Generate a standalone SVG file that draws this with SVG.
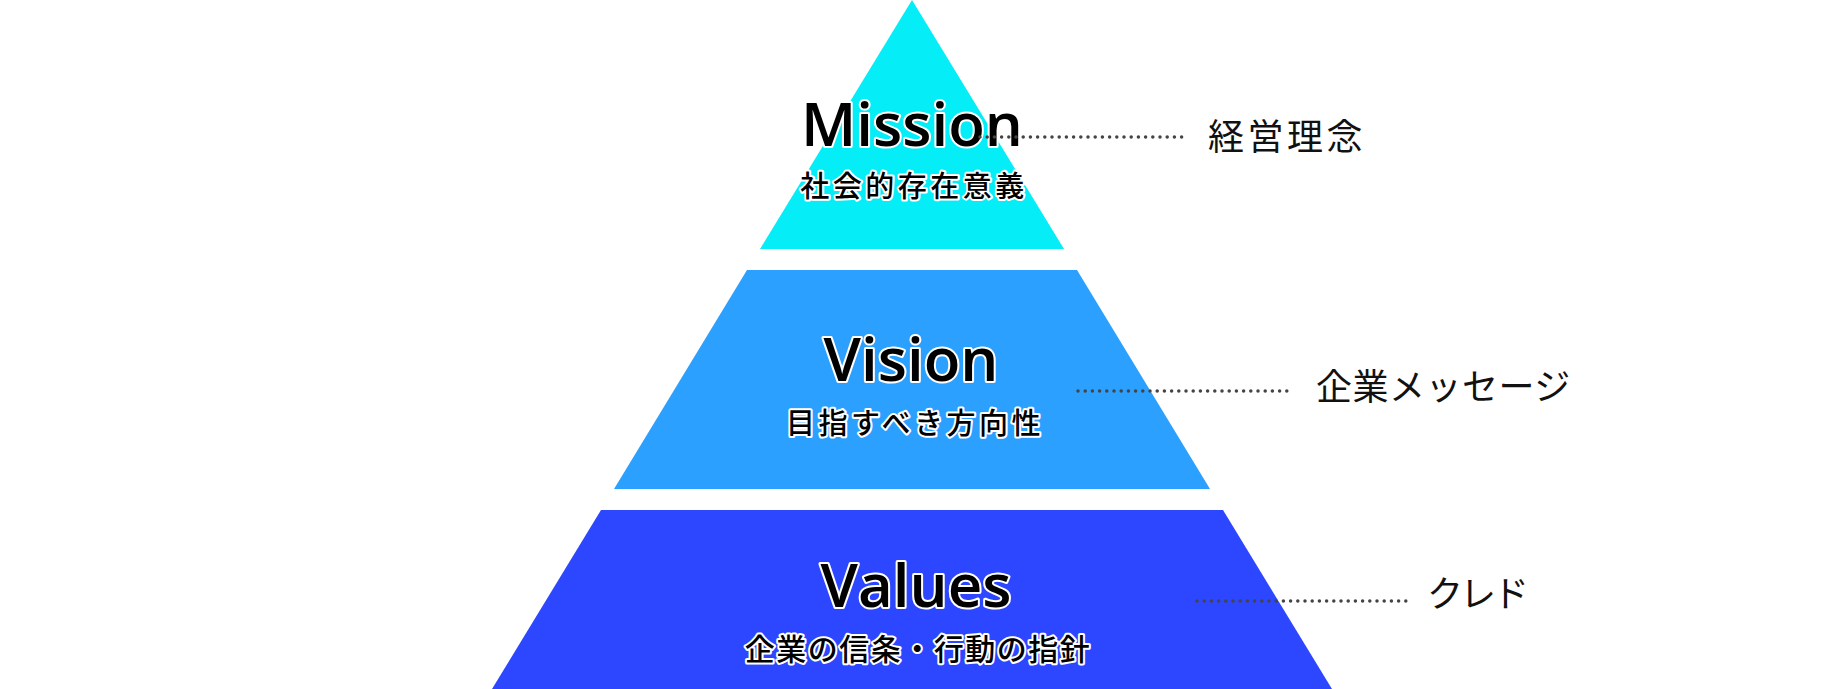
<svg xmlns="http://www.w3.org/2000/svg" width="1826" height="689" viewBox="0 0 1826 689">
<style>
.title{font-family:"Open Sans","Noto Sans",sans-serif;font-weight:600;font-size:60px;fill:#000;stroke:#fff;stroke-width:4;paint-order:stroke;stroke-linejoin:round;text-anchor:middle}
.sub{font-family:"Noto Sans CJK JP",sans-serif;font-weight:500;font-size:29px;letter-spacing:3.5px;fill:#000;stroke:#fff;stroke-width:4;paint-order:stroke;stroke-linejoin:round;text-anchor:middle}
.label{font-family:"Noto Sans CJK JP",sans-serif;font-weight:400;font-size:36px;fill:#111}
.dots{stroke:#444;stroke-width:3.5;stroke-linecap:round;stroke-dasharray:0 7.2;fill:none}
</style>
<rect width="1826" height="689" fill="#fff"/>
<g id="mission">
<polygon points="912,0 1064,249 760,249" fill="#05EDF7"/>
<text class="title" x="912" y="146">Mission</text>
<text class="sub" x="914" y="197">社会的存在意義</text>
</g>
<g id="vision">
<polygon points="747,270 1077,270 1210,489 614,489" fill="#2CA0FF"/>
<text class="title" x="911" y="381">Vision</text>
<text class="sub" x="915" y="434">目指すべき方向性</text>
</g>
<g id="values">
<polygon points="601,510 1223,510 1332,689 492,689" fill="#2C47FF"/>
<text class="title" x="916" y="607">Values</text>
<text class="sub" x="918" y="660" style="font-size:30px;letter-spacing:1.5px">企業の信条・行動の指針</text>
</g>
<g id="connectors">
<line class="dots" x1="980" y1="137" x2="1183" y2="137"/>
<line class="dots" x1="1078" y1="391" x2="1292" y2="391"/>
<line class="dots" x1="1197" y1="601" x2="1409" y2="601"/>
</g>
<g id="label-mission"><text class="label" x="1208" y="150" style="letter-spacing:3.5px">経営理念</text></g>
<g id="label-vision"><text class="label" x="1316" y="400" style="letter-spacing:0.5px">企業メッセージ</text></g>
<g id="label-values"><text class="label" x="1427" y="607" style="letter-spacing:-3px">クレド</text></g>
</svg>
